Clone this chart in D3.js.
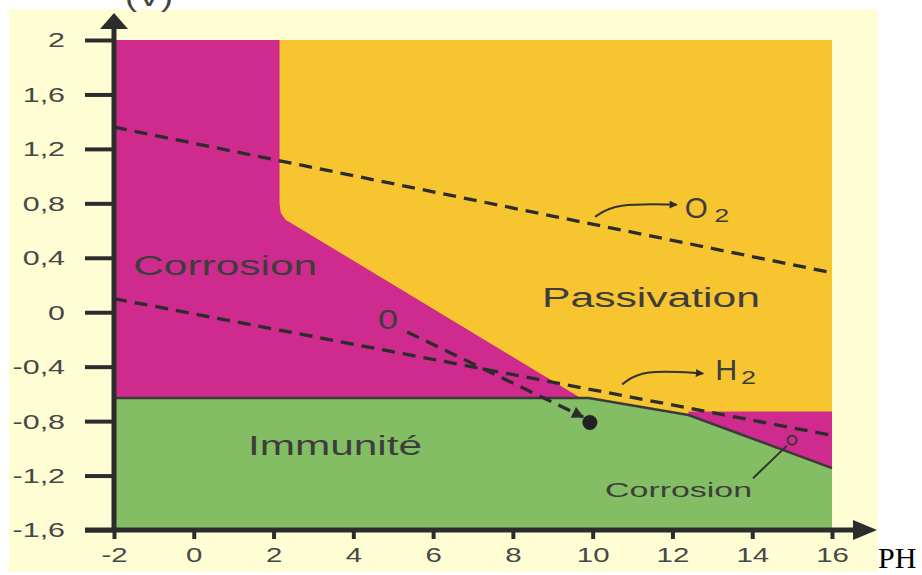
<!DOCTYPE html>
<html><head><meta charset="utf-8">
<script src="https://cdn.jsdelivr.net/npm/d3@7"></script>
<style>html,body{margin:0;padding:0;background:#fff;}svg{display:block;}</style>
</head><body>
<svg id="chart" width="922" height="575"></svg>
<script>
// ---- data (pH, potential in V) ----
const xTicks = [-2, 0, 2, 4, 6, 8, 10, 12, 14, 16];
const yTicks = [2, 1.6, 1.2, 0.8, 0.4, 0, -0.4, -0.8, -1.2, -1.6];
const passivationRegion = [[2.15, 2], [16, 2], [16, -0.73], [12.4, -0.73], [12.4, -0.755], [9.9, -0.63], [9.7, -0.63], [2.3, 0.68], [2.18, 0.73], [2.15, 0.80]];
const immunityBoundary = [[-2, -0.63], [9.9, -0.63], [12.4, -0.755], [16, -1.145]];
const o2Line = [[-2, 1.36], [16, 0.29]];
const h2Line = [[-2, 0.1], [16, -0.905]];
const zeroArrow = [[5.35, -0.145], [9.76, -0.77]];
const filledPoint = [9.93, -0.81];
const openPoint = [15.0, -0.94];
const leader = [[14.87, -0.98], [14.02, -1.22]];
const o2Curve = [[10.06, 0.70], [10.56, 0.80], [12.11, 0.79]];
const h2Curve = [[10.74, -0.53], [11.24, -0.42], [12.77, -0.45]];
const labels = [
  {text: "Corrosion", x: -1.52, y: 0.27},
  {text: "Passivation", x: 8.73, y: 0.04},
  {text: "Immunité", x: 1.36, y: -1.05},
  {text: "0", x: 4.62, y: -0.12},
  {text: "O", x: 12.31, y: 0.69},
  {text: "2", x: 13.05, y: 0.66},
  {text: "H", x: 13.07, y: -0.50},
  {text: "2", x: 13.72, y: -0.53},
  {text: "Corrosion", x: 10.31, y: -1.36}
];

// ---- styles ----
const labelStyle = [
  {size: 27, w: 184}, {size: 27, w: 218}, {size: 27, w: 174}, {size: 27, w: 20},
  {size: 29, w: 23}, {size: 19, w: 15}, {size: 30, w: 22}, {size: 19, w: 15}, {size: 20, w: 147}
];
const C = {magenta: "#CF2A8D", yellow: "#F7C530", green: "#84BE64", cream: "#FFFDD4", ink: "#2c2c2c", text: "#3d3d3d"};
const FONT = "Liberation Sans, Arial, Helvetica, sans-serif";

const svg = d3.select("#chart");
const x = d3.scaleLinear().domain([-2, 16]).range([114, 832]);
const y = d3.scaleLinear().domain([-1.6, 2]).range([530, 40]);
const line = d3.line().x(d => x(d[0])).y(d => y(d[1]));

// background
svg.append("rect").attr("x", 9).attr("y", 9).attr("width", 869).attr("height", 563).attr("fill", C.cream);

const defs = svg.append("defs");
defs.append("marker").attr("id", "ah").attr("viewBox", "0 0 10 10").attr("refX", 9).attr("refY", 5)
  .attr("markerWidth", 10).attr("markerHeight", 8).attr("markerUnits", "userSpaceOnUse").attr("orient", "auto")
  .append("path").attr("d", "M0,0L10,5L0,10Z").attr("fill", C.ink);
defs.append("marker").attr("id", "ah2").attr("viewBox", "0 0 10 10").attr("refX", 9).attr("refY", 5)
  .attr("markerWidth", 14).attr("markerHeight", 12).attr("markerUnits", "userSpaceOnUse").attr("orient", "auto")
  .append("path").attr("d", "M0,0L10,5L0,10Z").attr("fill", C.ink);

// regions
svg.append("rect").attr("x", x(-2)).attr("y", y(2)).attr("width", x(16) - x(-2)).attr("height", y(-1.6) - y(2)).attr("fill", C.magenta);
svg.append("path").attr("d", line(passivationRegion) + "Z").attr("fill", C.yellow);
const immunityRegion = immunityBoundary.concat([[16, -1.6], [-2, -1.6]]);
svg.append("path").attr("d", line(immunityRegion) + "Z").attr("fill", C.green);
svg.append("path").attr("d", line(immunityBoundary)).attr("fill", "none").attr("stroke", "#3a3a3a").attr("stroke-width", 2.5);

// dashed equilibrium lines
[o2Line, h2Line].forEach(l => svg.append("path").attr("d", line(l)).attr("fill", "none")
  .attr("stroke", C.ink).attr("stroke-width", 3.3).attr("stroke-dasharray", "13,8"));
svg.append("path").attr("d", line(zeroArrow)).attr("fill", "none").attr("stroke", C.ink)
  .attr("stroke-width", 3.3).attr("stroke-dasharray", "13,8").attr("marker-end", "url(#ah2)");
svg.append("circle").attr("cx", x(filledPoint[0])).attr("cy", y(filledPoint[1])).attr("r", 7.5).attr("fill", "#222");
svg.append("path").attr("d", line(leader)).attr("stroke", "#333").attr("stroke-width", 2).attr("fill", "none");
svg.append("circle").attr("cx", x(openPoint[0])).attr("cy", y(openPoint[1])).attr("r", 4.5).attr("fill", "none")
  .attr("stroke", "#333").attr("stroke-width", 1.8);

const curve = d3.line().x(d => x(d[0])).y(d => y(d[1])).curve(d3.curveBasis);
[o2Curve, h2Curve].forEach(c => svg.append("path").attr("d", curve(c)).attr("fill", "none")
  .attr("stroke", "#333").attr("stroke-width", 2).attr("marker-end", "url(#ah)"));

// labels
labels.forEach((l, i) => {
  svg.append("text").attr("x", x(l.x)).attr("y", y(l.y)).text(l.text)
    .attr("font-family", FONT).attr("font-size", labelStyle[i].size).attr("fill", C.text)
    .attr("textLength", labelStyle[i].w).attr("lengthAdjust", "spacingAndGlyphs");
});

// axes
const fmt = d => String(d).replace(".", ",");
const gy = svg.append("g").attr("transform", `translate(${x(-2)},0)`)
  .call(d3.axisLeft(y).tickValues(yTicks).tickSize(29).tickSizeOuter(0).tickFormat(fmt));
gy.select(".domain").remove();
gy.selectAll(".tick line").attr("stroke", C.ink).attr("stroke-width", 4);
gy.selectAll(".tick text").attr("x", -49 / 1.45).attr("dy", "0.33em").attr("transform", "scale(1.45,1)")
  .attr("font-family", FONT).attr("font-size", 21).attr("fill", "#474747");

const gx = svg.append("g").attr("transform", `translate(0,${y(-1.6)})`)
  .call(d3.axisBottom(x).tickValues(xTicks).tickSize(9).tickSizeOuter(0).tickFormat(fmt));
gx.select(".domain").remove();
gx.selectAll(".tick line").attr("stroke", C.ink).attr("stroke-width", 4);
gx.selectAll(".tick text").attr("y", 17).attr("dy", "0.71em").attr("transform", "scale(1.4,1)")
  .attr("font-family", FONT).attr("font-size", 21).attr("fill", "#474747");

// axis lines with arrows
const x0 = x(-2), yb = y(-1.6);
svg.append("line").attr("x1", x0).attr("x2", x0).attr("y1", yb + 2).attr("y2", 26).attr("stroke", C.ink).attr("stroke-width", 5);
svg.append("path").attr("d", `M${x0},13L${x0 + 14},29L${x0 - 14},29Z`).attr("fill", C.ink);
svg.append("line").attr("x1", 85).attr("x2", 860).attr("y1", yb).attr("y2", yb).attr("stroke", C.ink).attr("stroke-width", 5);
svg.append("path").attr("d", `M877,${yb}L853,${yb - 10}L853,${yb + 10}Z`).attr("fill", C.ink);

// axis titles (the top one is cropped in the reference)
svg.append("text").attr("x", x0 + 11).attr("y", 6).text("(V)").attr("font-family", FONT).attr("font-size", 28)
  .attr("fill", "#444").attr("textLength", 48).attr("lengthAdjust", "spacingAndGlyphs");
svg.append("text").attr("x", 878).attr("y", 568).text("PH").attr("font-family", "Liberation Serif, Times New Roman, serif")
  .attr("font-size", 30).attr("fill", "#000");
</script>
</body></html>
